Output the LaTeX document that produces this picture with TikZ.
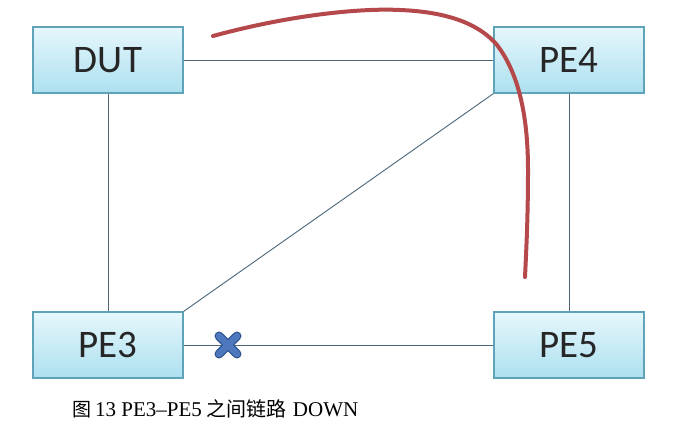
\documentclass[tikz,border=0pt]{standalone}
\usepackage{fontspec}
\setmainfont{Liberation Serif}
\newfontfamily\boxfont{Carlito}
\newfontfamily\cjk{Noto Sans CJK SC}
\begin{document}
\begin{tikzpicture}[x=1pt,y=-1pt,
  dev/.style={draw=boxedge, line width=1.2pt, top color=boxtop, bottom color=boxbot,
    minimum width=150pt, minimum height=66pt, inner sep=0pt,
    font=\boxfont\fontsize{39}{42}\selectfont, text=black!85},
  link/.style={draw=linkcol, line width=0.9pt}]
\definecolor{boxedge}{HTML}{5FA3B8}
\definecolor{boxtop}{HTML}{E6F7FC}
\definecolor{boxbot}{HTML}{ACE0F0}
\definecolor{linkcol}{HTML}{4A6678}
\definecolor{redpath}{HTML}{B5484A}
\definecolor{xfill}{HTML}{4D78BE}
\definecolor{xedge}{HTML}{2F5590}
\useasboundingbox (0,0) rectangle (700,428);
\fill[white] (0,0) rectangle (700,428);
\node[dev] (dut) at (108,60) {DUT};
\node[dev] (pe4) at (569,60) {PE4};
\node[dev] (pe3) at (108,345) {PE3};
\node[dev] (pe5) at (569,345) {PE5};
\draw[link] (dut) -- (pe4);
\draw[link] (dut) -- (pe3);
\draw[link] (pe4) -- (pe5);
\draw[link] (pe3.north east) -- (pe4.south west);
\draw[link] (pe3) -- (pe5);
\coordinate (x) at (228,345);
\draw[line width=9pt, xedge, line cap=round] ([shift={(-9,-9)}]x) -- ([shift={(9,9)}]x)
   ([shift={(-9,9)}]x) -- ([shift={(9,-9)}]x);
\draw[line width=6.5pt, xfill, line cap=round] ([shift={(-9,-9)}]x) -- ([shift={(9,9)}]x)
   ([shift={(-9,9)}]x) -- ([shift={(9,-9)}]x);
\coordinate (rs) at (213,36);
\coordinate (re) at (525,277);
\draw[redpath, line width=4pt, line cap=round] (rs) .. controls (290,15) and (360,8) .. (400,10)
  .. controls (450,12) and (480,25) .. (497,45)
  .. controls (520,75) and (528,120) .. (528,170)
  .. controls (528,220) and (526,255) .. (re);
\node[anchor=base west, inner sep=0pt, font=\fontsize{21}{21}\selectfont] (cap) at (72,416)
  {{\cjk\fontsize{19}{19}\selectfont 图}\hspace{4pt}13 PE3–PE5\hspace{5pt}{\cjk\fontsize{20}{20}\selectfont 之间链路}\hspace{6pt}DOWN};
\end{tikzpicture}
\end{document}
